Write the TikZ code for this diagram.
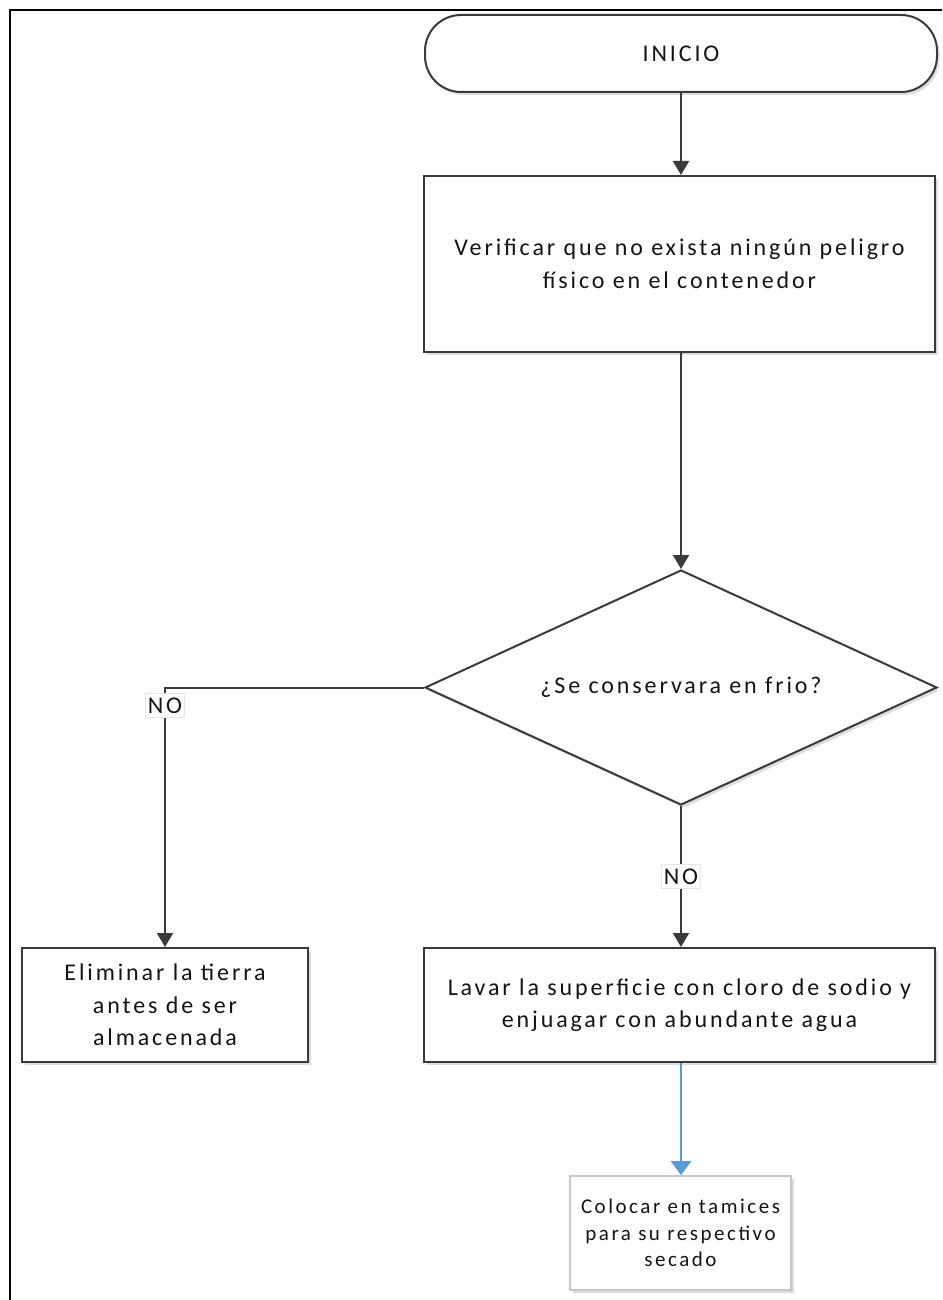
\documentclass[tikz,border=0pt]{standalone}
\usepackage{fontspec}
\setmainfont{Carlito}[LetterSpace=12]
\usetikzlibrary{shapes.geometric,arrows.meta,shadows}
\definecolor{edge}{HTML}{3A3A3A}
\definecolor{ink}{HTML}{141414}
\definecolor{flowblue}{HTML}{5B9BD5}
\definecolor{lightedge}{HTML}{C8C8C8}
\tikzset{
  boxshadow/.style={drop shadow={shadow xshift=2.5pt,shadow yshift=-3pt,opacity=0.22,fill=black!60}},
  procbox/.style={draw=edge,line width=2pt,fill=white,boxshadow,align=center,
    inner sep=0pt,text=ink,font=\fontsize{24}{32.5}\selectfont},
  termbox/.style={procbox,rounded corners=36pt},
  decbox/.style={procbox,shape=diamond,aspect=2.18},
  softbox/.style={draw=lightedge,line width=1.6pt,fill=white,boxshadow,align=center,
    inner sep=0pt,text=ink,font=\fontsize{21}{26.5}\selectfont},
  link/.style={draw=edge,line width=2pt,-{Triangle[length=14pt,width=16pt]}},
  bluelink/.style={draw=flowblue,line width=2pt,-{Triangle[length=14pt,width=20pt]}},
  tag/.style={fill=white,draw=black!10,line width=0.8pt,text=ink,inner xsep=2pt,inner ysep=4pt,
    font=\fontsize{24}{24}\selectfont},
}
\begin{document}
\begin{tikzpicture}[x=1pt,y=-1pt]
  \useasboundingbox (0,0) rectangle (942,1300);
  % outer frame (top and left edges)
  \draw[black,line width=2.2pt] (10,1300) -- (10,10) -- (942,10);

  \node[termbox,minimum width=512pt,minimum height=77pt] (start) at (681,53.5) {INICIO};
  \node[procbox,minimum width=511pt,minimum height=176pt] (verify) at (679.5,264)
    {Verificar que no exista ningún peligro\\físico en el contenedor};
  \node[decbox,minimum width=512pt,minimum height=235pt] (cold) at (681,687.5)
    {¿Se conservara en frio?};
  \node[procbox,minimum width=286pt,minimum height=114pt] (soil) at (165,1005)
    {Eliminar la tierra\\antes de ser\\almacenada};
  \node[procbox,minimum width=511pt,minimum height=114pt] (wash) at (679.5,1005)
    {Lavar la superficie con cloro de sodio y\\enjuagar con abundante agua};
  \node[softbox,minimum width=221pt,minimum height=114pt] (sieve) at (680.5,1233)
    {Colocar en tamices\\para su respectivo\\secado};

  \draw[link] (start.south -| cold.north) -- (verify.north -| cold.north);
  \draw[link] (verify.south -| cold.north) -- (cold.north);
  \draw[link] (cold.west) -| node[tag,pos=0.535] (noleft) {NO} (soil.north);
  \draw[link] (cold.south) -- node[tag,pos=0.5] (nodown) {NO} (wash.north -| cold.south);
  \draw[bluelink] (wash.south -| cold.south) -- (sieve.north -| cold.south);
\end{tikzpicture}
\end{document}
